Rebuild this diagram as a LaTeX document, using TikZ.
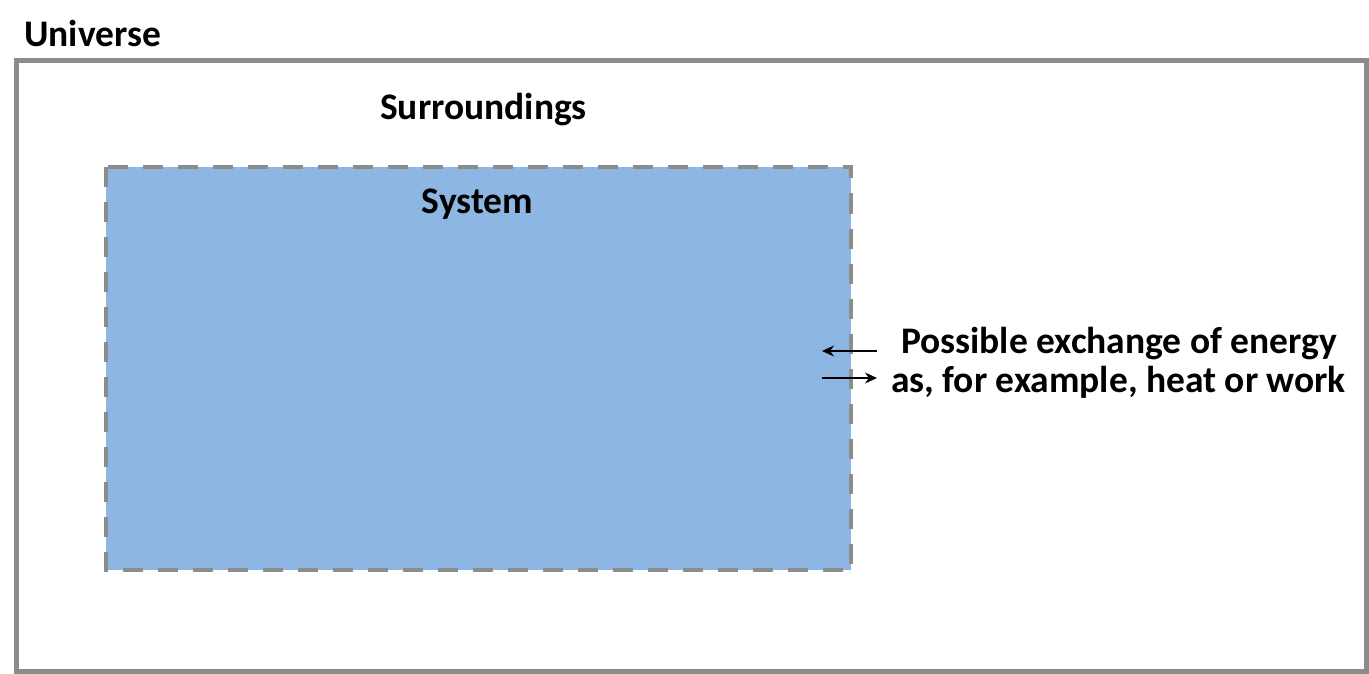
\documentclass[tikz,border=0pt]{standalone}
\usepackage{fontspec}
\usetikzlibrary{arrows.meta}
\setmainfont{Carlito}
\definecolor{boxgray}{HTML}{8C8C8C}
\definecolor{sysblue}{HTML}{8EB6E2}
\tikzset{
	universebox/.style={draw=boxgray, line width=5pt},
	systembox/.style={draw=boxgray, fill=sysblue, line width=4pt, dash pattern=on 20pt off 15pt},
	textlbl/.style={inner sep=0pt, font=\fontsize{37.5}{42}\selectfont\bfseries},
	flow/.style={->, line width=1.2pt}
}
\begin{document}
\begin{tikzpicture}[x=1pt, y=-1pt, line join=miter, >={Stealth[length=12pt,width=11pt]}]
	\useasboundingbox (0,0) rectangle (1369,674);
	\coordinate (uniNW) at (16.5,60.5);
	\coordinate (uniSE) at (1366,671.5);
	\coordinate (sysNW) at (105.5,167);
	\coordinate (sysSE) at (851,570);
	\draw[universebox] (uniNW) rectangle (uniSE);
	\draw[systembox] (sysNW) rectangle (sysSE);
	\node[textlbl, anchor=base west] (universe) at (24,47) {Universe};
	\node[textlbl, anchor=base] (surround) at (483.5,120) {Surroundings};
	\node[textlbl, anchor=base] (system) at (477.5,213) {System};
	\node[textlbl, anchor=base] (exchtop) at (1119,353) {Possible exchange of energy};
	\node[textlbl, anchor=base] (exchbot) at (1118.5,392) {as, for example, heat or work};
	% energy in and out
	\coordinate (inR) at (877,351);
	\coordinate (inL) at (822,351);
	\coordinate (outL) at (822,378);
	\coordinate (outR) at (877,378);
	\draw[flow] (inR) -- (inL);
	\draw[flow] (outL) -- (outR);
\end{tikzpicture}
\end{document}
